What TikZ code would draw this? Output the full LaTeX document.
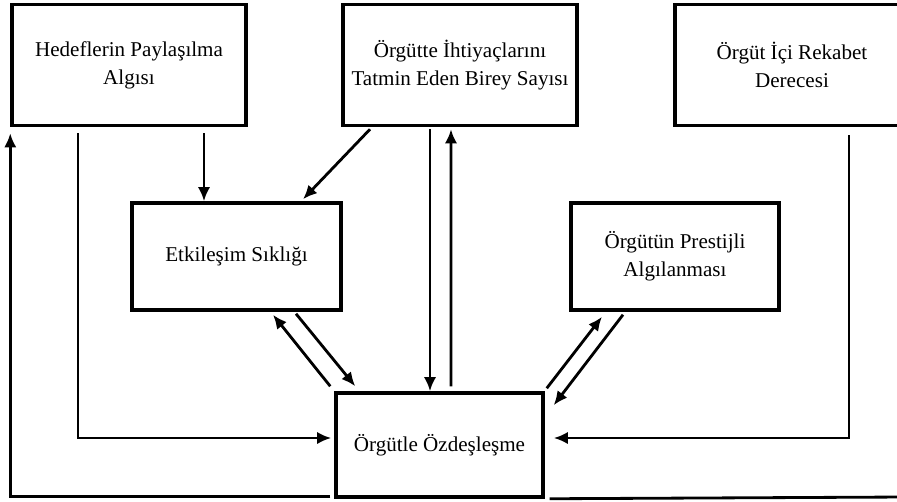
\documentclass[tikz,border=0pt]{standalone}
\usepackage{fontspec}
\setmainfont{Liberation Serif}
\usepackage{tikz}
\usetikzlibrary{arrows.meta,positioning,calc}
\usepackage{xcolor}

\begin{document}
\begin{tikzpicture}[x=0.02cm,y=-0.02cm,
		box/.style={draw,rectangle,line width=2pt,align=center,font=\fontsize{12}{16}\selectfont},
		arr/.style={-{Latex[length=8pt,width=7pt]},line width=1.6pt},
		ln/.style={line width=1.6pt}]
					\useasboundingbox (0,0) rectangle (897,501);
					\clip (0,0) rectangle (897,501);
					\node[box,minimum width=4.68cm,minimum height=2.42cm] (hedef) at (129,65) {Hedeflerin Paylaşılma\\Algısı};
					\node[box,minimum width=4.68cm,minimum height=2.42cm] (birey) at (460,65) {Örgütte İhtiyaçlarını\\Tatmin Eden Birey Sayısı};
					\node[box,minimum width=4.68cm,minimum height=2.42cm] (rekabet) at (792,65) {Örgüt İçi Rekabet\\Derecesi};
					\node[box,minimum width=4.18cm,minimum height=2.14cm] (etkilesim) at (236.5,256.5) {Etkileşim Sıklığı};
					\node[box,minimum width=4.16cm,minimum height=2.14cm] (prestij) at (675,256.5) {Örgütün Prestijli\\Algılanması};
					\node[box,minimum width=4.14cm,minimum height=2.08cm] (ozdes) at (439.5,445) {Örgütle Özdeşleşme};
					\coordinate (sag) at (905,497);
					
					\draw[arr] ($(hedef.south)+(75,6)$) -- ($(etkilesim.north)+(-32.5,0)$);
					\draw[arr] ($(birey.south)+(-90,2)$) -- ($(etkilesim.north)+(66.5,-2)$);
					\draw[arr] ($(birey.south)+(-30,2)$) -- ($(ozdes.north)+(-9.5,0)$);
					\draw[arr] ($(ozdes.north)+(11.5,-5)$) -- ($(birey.south)+(-9,2)$);
					\draw[arr] ($(ozdes.north west)+(-4,-5)$) -- ($(etkilesim.south)+(36.5,3)$);
					\draw[arr] ($(etkilesim.south)+(59.5,2)$) -- ($(ozdes.north west)+(21,-5)$);
					\draw[arr] ($(ozdes.north east)+(2,-3)$) -- ($(prestij.south)+(-73,5)$);
					\draw[arr] ($(prestij.south)+(-52,3)$) -- ($(ozdes.north east)+(9,14)$);
					\draw[arr] ($(hedef.south)+(-51,6)$) |- ($(ozdes.west)+(-3,-7)$);
					\draw[arr] ($(rekabet.south)+(57,8)$) |- ($(ozdes.east)+(9,-7)$);
					\draw[arr] ($(ozdes.south west)+(-4,-2)$) -| ($(hedef.south west)+(0,6)$);
					\draw[ln] ($(ozdes.south east)+(5,0)$) -- (sag);
				\end{tikzpicture}
\end{document}
